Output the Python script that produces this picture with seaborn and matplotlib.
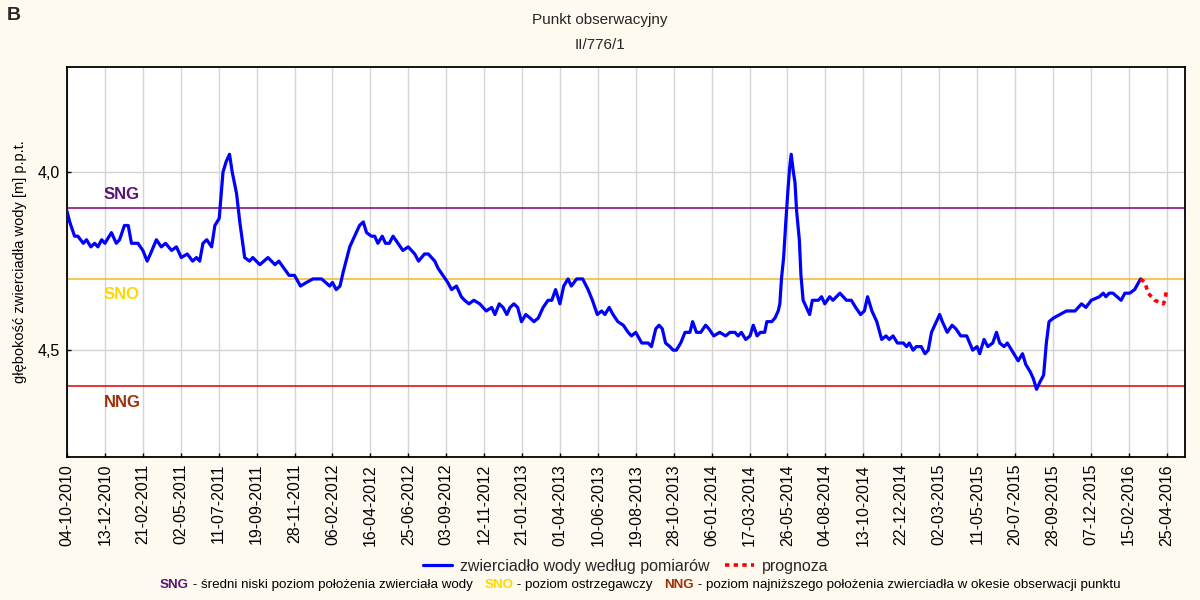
import numpy as np
import pandas as pd
import matplotlib
matplotlib.use("Agg")
import matplotlib.pyplot as plt
import matplotlib.transforms as mtransforms
from matplotlib.offsetbox import TextArea, HPacker, AnchoredOffsetbox
import seaborn as sns

sns.set_theme(style="white")
plt.rcParams['font.family'] = ['Liberation Sans', 'DejaVu Sans']

# ---------------- data ----------------
START_DATE = "2010-10-04"

# measured groundwater depth: days since START_DATE and depth [m p.p.t.]
meas_days = [
    0, 5, 14, 20, 30, 36, 44, 51, 57, 64, 70, 82, 91, 97, 106, 113, 119, 131, 140, 148,
    154, 165, 174, 182, 193, 202, 211, 222, 232, 239, 245, 251, 258, 267, 273, 281, 288, 294, 300, 305,
    313, 319, 328, 337, 343, 356, 371, 384, 391, 410, 420, 431, 442, 454, 470, 485, 490, 497, 504, 510,
    522, 531, 540,
    547, 553, 562, 568, 574, 582, 588, 595, 602, 611, 620, 630, 642, 649, 660, 667, 679, 685, 694, 703,
    710, 719, 728, 734, 742, 751, 762, 774, 784, 790, 798, 805, 812, 818, 825, 832, 839, 847, 855, 862,
    870, 879, 888, 895, 902, 910, 917, 925, 931, 941, 952, 962, 970, 979, 987, 993, 1001, 1008, 1017, 1027,
    1036, 1042, 1050, 1061, 1073,
    1079, 1087, 1093, 1099, 1105, 1113, 1119, 1125, 1133, 1141, 1150, 1155, 1162, 1170, 1179, 1185, 1194,
    1205, 1216, 1224, 1233, 1239, 1245, 1253, 1261, 1267, 1274, 1280, 1288, 1292, 1301, 1307, 1313, 1316,
    1319, 1323, 1327, 1331, 1334, 1337, 1341, 1344, 1347, 1352, 1355, 1359, 1365, 1371, 1376, 1382, 1387,
    1393, 1399, 1408, 1414, 1427, 1439, 1448, 1456, 1465, 1472, 1478, 1486, 1495, 1504, 1512, 1518, 1525,
    1533, 1544, 1550, 1555, 1562, 1568, 1577, 1584, 1590, 1596, 1605,
    1611, 1616, 1625, 1634, 1641, 1650, 1661, 1672, 1680, 1685, 1693, 1700, 1709, 1716, 1722, 1730, 1736,
    1744, 1756, 1764, 1770, 1778, 1784, 1790, 1796, 1803, 1808, 1813, 1821, 1833, 1845, 1861, 1873, 1881,
    1891, 1906,
    1913, 1918, 1924, 1931, 1946, 1953, 1962, 1971, 1982,
]
meas_depth = [
    4.11, 4.14, 4.18, 4.18, 4.20, 4.19, 4.21, 4.20, 4.21, 4.19, 4.20, 4.17, 4.20, 4.19, 4.15, 4.15, 4.20, 4.20, 4.22, 4.25,
    4.23, 4.19, 4.21, 4.20, 4.22, 4.21, 4.24, 4.23, 4.25, 4.24, 4.25, 4.20, 4.19, 4.21, 4.15, 4.13, 4.00, 3.97, 3.95, 4.00,
    4.06, 4.14, 4.24, 4.25, 4.24, 4.26, 4.24, 4.26, 4.25, 4.29, 4.29, 4.32, 4.31, 4.30, 4.30, 4.32, 4.31, 4.33, 4.32, 4.28,
    4.21, 4.18, 4.15,
    4.14, 4.17, 4.18, 4.18, 4.20, 4.18, 4.20, 4.20, 4.18, 4.20, 4.22, 4.21, 4.23, 4.25, 4.23, 4.23, 4.25, 4.27, 4.29, 4.31,
    4.33, 4.32, 4.35, 4.36, 4.37, 4.36, 4.37, 4.39, 4.38, 4.40, 4.37, 4.38, 4.40, 4.38, 4.37, 4.38, 4.42, 4.40, 4.41, 4.42,
    4.41, 4.38, 4.36, 4.36, 4.33, 4.37, 4.32, 4.30, 4.32, 4.30, 4.30, 4.33, 4.36, 4.40, 4.39, 4.40, 4.38, 4.40, 4.42, 4.43,
    4.45, 4.46, 4.45, 4.48, 4.48,
    4.49, 4.44, 4.43, 4.44, 4.48, 4.49, 4.50, 4.50, 4.48, 4.45, 4.45, 4.42, 4.45, 4.45, 4.43, 4.44, 4.46,
    4.45, 4.46, 4.45, 4.45, 4.46, 4.45, 4.47, 4.46, 4.43, 4.46, 4.45, 4.45, 4.42, 4.42, 4.41, 4.39, 4.37,
    4.30, 4.24, 4.14, 4.05, 3.99, 3.95, 4.00, 4.03, 4.11, 4.19, 4.29, 4.36, 4.38, 4.40, 4.36, 4.36, 4.36,
    4.35, 4.37, 4.35, 4.36, 4.34, 4.36, 4.36, 4.38, 4.40, 4.39, 4.35, 4.39, 4.42, 4.47, 4.46, 4.47, 4.46,
    4.48, 4.48, 4.49, 4.48, 4.50, 4.49, 4.49, 4.51, 4.50, 4.45, 4.42,
    4.40, 4.42, 4.45, 4.43, 4.44, 4.46, 4.46, 4.50, 4.49, 4.51, 4.47, 4.49, 4.48, 4.45, 4.48, 4.49, 4.48,
    4.50, 4.53, 4.51, 4.54, 4.56, 4.58, 4.61, 4.59, 4.57, 4.48, 4.42, 4.41, 4.40, 4.39, 4.39, 4.37, 4.38,
    4.36, 4.35,
    4.34, 4.35, 4.34, 4.34, 4.36, 4.34, 4.34, 4.33, 4.30,
]

# forecast
fc_days = [1982, 1990, 1996, 2008, 2024, 2027, 2030]
fc_depth = [4.30, 4.31, 4.34, 4.36, 4.37, 4.36, 4.33]

# reference levels
SNG = 4.10
SNO = 4.30
NNG = 4.60

x_tick_labels = [
    "04-10-2010", "13-12-2010", "21-02-2011", "02-05-2011", "11-07-2011", "19-09-2011",
    "28-11-2011", "06-02-2012", "16-04-2012", "25-06-2012", "03-09-2012", "12-11-2012",
    "21-01-2013", "01-04-2013", "10-06-2013", "19-08-2013", "28-10-2013", "06-01-2014",
    "17-03-2014", "26-05-2014", "04-08-2014", "13-10-2014", "22-12-2014", "02-03-2015",
    "11-05-2015", "20-07-2015", "28-09-2015", "07-12-2015", "15-02-2016", "25-04-2016",
]
y_tick_values = [4.0, 4.5]
y_tick_labels = ["4,0", "4,5"]

X_END_DAYS = 2064
Y_TOP, Y_BOTTOM = 3.705, 4.80

LABEL_MEAS = "zwierciadło wody według pomiarów"
LABEL_FC = "prognoza"

# ---------------- figure ----------------
W, H = 1200, 600
fig = plt.figure(figsize=(12, 6), dpi=100, facecolor="#FFFAF0")
ax = fig.add_axes([67 / W, 1 - 457 / H, (1185 - 67) / W, (457 - 67) / H])
ax.set_facecolor("white")

start = pd.Timestamp(START_DATE)
df_meas = pd.DataFrame({"date": start + pd.to_timedelta(meas_days, unit="D"), "depth": meas_depth})
df_fc = pd.DataFrame({"date": start + pd.to_timedelta(fc_days, unit="D"), "depth": fc_depth})

# grid
tick_pos = pd.to_datetime(x_tick_labels, format="%d-%m-%Y")
ax.set_xticks(tick_pos)
ax.set_xticklabels(x_tick_labels, rotation=90, fontsize=11.5)
ax.set_yticks(y_tick_values)
ax.set_yticklabels(y_tick_labels, fontsize=11.5)
ax.grid(True, color="#d4d4d4", lw=1.0)
ax.set_axisbelow(True)

# reference lines
ax.axhline(SNG, color="#800080", lw=1.1, zorder=2)
ax.axhline(SNO, color="#F0BC20", lw=1.1, zorder=2)
ax.axhline(NNG, color="#E00000", lw=1.1, zorder=2)

sns.lineplot(data=df_meas, x="date", y="depth", ax=ax, color="#0000FF", lw=2.3,
             label=LABEL_MEAS, legend=False, zorder=3)
sns.lineplot(data=df_fc, x="date", y="depth", ax=ax, color="#FF0000", lw=2.6,
             linestyle=(0, (1.2, 1.2)), label=LABEL_FC, legend=False, zorder=3)

ax.set_xlim(start, start + pd.Timedelta(days=X_END_DAYS))
ax.set_ylim(Y_BOTTOM, Y_TOP)
ax.set_xlabel("")
ax.set_ylabel("głębokość zwierciadła wody [m] p.p.t.", fontsize=10.5, color="black")
ax.yaxis.set_label_coords((27 - 67) / (1185 - 67), 0.5)

ax.tick_params(axis="both", direction="in", length=3, width=1, colors="black",
               bottom=True, left=True, top=False, right=False, pad=5)
for s in ax.spines.values():
    s.set_color("black")
    s.set_linewidth(1.3)

# level labels
trans = mtransforms.blended_transform_factory(ax.transAxes, ax.transData)
lvl_kw = dict(transform=trans, fontsize=12, fontweight="bold", va="center", ha="left")
ax.text(0.033, 4.062, "SNG", color="#5A1478", **lvl_kw)
ax.text(0.033, 4.343, "SNO", color="#FFD700", **lvl_kw)
ax.text(0.033, 4.646, "NNG", color="#A0300A", **lvl_kw)

# titles
fig.text(0.5, 1 - 20 / H, "Punkt obserwacyjny", ha="center", va="center", fontsize=11)
fig.text(0.5, 1 - 45 / H, "II/776/1", ha="center", va="center", fontsize=11)
fig.text(7 / W, 1 - 15 / H, "B", ha="left", va="center", fontsize=14, fontweight="bold")

# legend
handles, labels = ax.get_legend_handles_labels()
fig.legend(handles, labels, loc="center", bbox_to_anchor=(626 / W, 1 - 566 / H), ncol=2,
           frameon=False, fontsize=11.5, handlelength=1.8, columnspacing=1.0, handletextpad=0.5)

# caption
parts = [
    ("SNG", "#5A1478", "bold"),
    (" - średni niski poziom położenia zwierciała wody   ", "black", "normal"),
    ("SNO", "#FFD700", "bold"),
    (" - poziom ostrzegawczy   ", "black", "normal"),
    ("NNG", "#A0300A", "bold"),
    (" - poziom najniższego położenia zwierciadła w okesie obserwacji punktu", "black", "normal"),
]
children = [TextArea(t, textprops=dict(color=c, fontweight=w, fontsize=9.6)) for t, c, w in parts]
box = HPacker(children=children, align="baseline", pad=0, sep=0)
anch = AnchoredOffsetbox(loc="center", child=box, bbox_to_anchor=(640 / W, 1 - 585 / H),
                         bbox_transform=fig.transFigure, frameon=False, pad=0, borderpad=0)
fig.add_artist(anch)

fig.savefig("out.png", dpi=100, facecolor=fig.get_facecolor())
